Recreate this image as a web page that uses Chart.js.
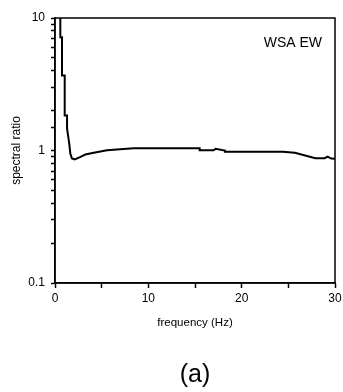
<!DOCTYPE html>
<html>
<head>
<meta charset="utf-8">
<script src="https://cdn.jsdelivr.net/npm/chart.js@4/dist/chart.umd.min.js"></script>
<style>
  html, body { margin: 0; padding: 0; background: #fff; }
  #wrap { width: 343px; height: 392px; }
</style>
</head>
<body>
<div id="wrap"><canvas id="ratioChart" width="343" height="392"></canvas></div>
<script>
// Data
const freq = [0.57, 0.57, 0.75, 0.75, 1.04, 1.04, 1.29, 1.29, 1.53, 1.64, 1.82, 2.11, 2.68, 3.25, 4.15, 5.57, 8.43, 12.0, 15.5, 15.5, 17.0, 17.2, 18.2, 18.2, 21.0, 24.4, 25.7, 26.8, 27.9, 28.9, 29.2, 29.6, 30];
const ratio = [12, 7.16, 7.16, 3.68, 3.68, 1.84, 1.84, 1.47, 1.12, 0.95, 0.87, 0.855, 0.89, 0.933, 0.961, 1.005, 1.04, 1.04, 1.04, 1.005, 1.005, 1.03, 1.0, 0.98, 0.98, 0.98, 0.96, 0.917, 0.875, 0.875, 0.9, 0.87, 0.865];
const yLabels = [0.1, 1, 10];
const xLabels = [0, 10, 20, 30];
const stationLabel = 'WSA EW';
const panelLabel = '(a)';

const FONT = "'Liberation Sans', Arial, sans-serif";

// Draws the box round the plot, the station name and the panel letter
const framePlugin = {
    id: 'frame',
    afterDraw(chart) {
        const { ctx, chartArea } = chart;
        ctx.save();
        ctx.strokeStyle = '#000';
        ctx.lineWidth = 1.5;
        ctx.strokeRect(chartArea.left, chartArea.top, chartArea.right - chartArea.left, chartArea.bottom - chartArea.top);

        ctx.fillStyle = '#000';
        ctx.font = '14px ' + FONT;
        ctx.textAlign = 'right';
        ctx.textBaseline = 'middle';
        ctx.fillText(stationLabel, chartArea.right - 13, 43);

        ctx.font = '25px ' + FONT;
        ctx.textAlign = 'center';
        ctx.fillText(panelLabel, (chartArea.left + chartArea.right) / 2, 375);
        ctx.restore();
    }
};

function renderChart() {
    const ctx = document.getElementById('ratioChart').getContext('2d');
    const points = freq.map((f, i) => ({ x: f, y: ratio[i] }));

    new Chart(ctx, {
        type: 'line',
        data: {
            datasets: [{
                label: 'spectral ratio',
                data: points,
                borderColor: '#000',
                borderWidth: 2,
                pointRadius: 0,
                tension: 0,
                fill: false
            }]
        },
        options: {
            responsive: false,
            animation: false,
            layout: {
                padding: { top: 18, right: 8, bottom: 32, left: 0 }
            },
            plugins: {
                legend: { display: false },
                tooltip: { enabled: false }
            },
            scales: {
                x: {
                    type: 'linear',
                    min: 0,
                    max: 30,
                    afterFit: scale => {
                        scale.height = 77;
                        scale.paddingLeft = 0;
                        scale.paddingRight = 0;
                    },
                    border: { display: true, color: '#000', width: 1.5 },
                    grid: { drawOnChartArea: false, drawTicks: true, tickLength: 5, color: '#000', tickWidth: 1.5 },
                    ticks: {
                        stepSize: 5,
                        maxRotation: 0,
                        autoSkip: false,
                        padding: 3,
                        color: '#000',
                        font: { family: FONT, size: 12 },
                        callback: v => xLabels.includes(v) ? String(v) : ''
                    },
                    title: {
                        display: true,
                        text: 'frequency (Hz)',
                        color: '#000',
                        font: { family: FONT, size: 11.5 },
                        padding: { top: 0, bottom: 30 }
                    }
                },
                y: {
                    type: 'logarithmic',
                    min: 0.1,
                    max: 10,
                    afterFit: scale => { scale.width = 55; },
                    border: { display: true, color: '#000', width: 1.5 },
                    grid: { drawOnChartArea: false, drawTicks: true, tickLength: 4, color: '#000', tickWidth: 1.5 },
                    ticks: {
                        autoSkip: false,
                        padding: 6,
                        color: '#000',
                        font: { family: FONT, size: 12 },
                        callback: v => yLabels.some(t => Math.abs(t - v) < 1e-9) ? String(v) : ''
                    },
                    title: {
                        display: true,
                        text: 'spectral ratio',
                        color: '#000',
                        font: { family: FONT, size: 12 },
                        padding: { top: 9, bottom: 0 }
                    }
                }
            }
        },
        plugins: [framePlugin]
    });
}

document.addEventListener('DOMContentLoaded', renderChart);
</script>
</body>
</html>
